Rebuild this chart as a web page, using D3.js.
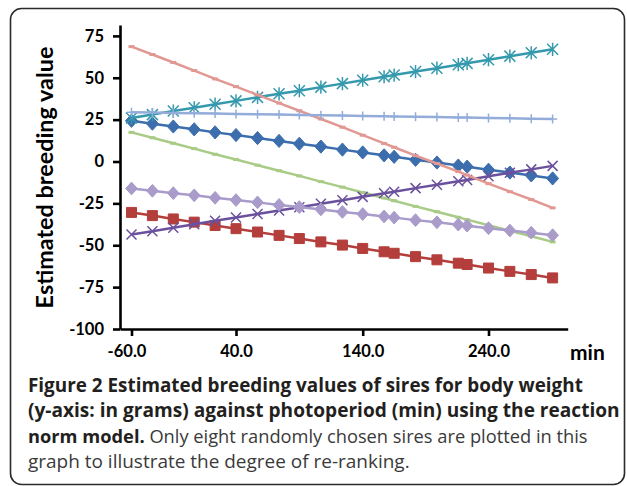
<!DOCTYPE html>
<html><head><meta charset="utf-8">
<script src="https://cdn.jsdelivr.net/npm/d3@7"></script>
<style>html,body{margin:0;padding:0;background:#fff;} svg{display:block;}</style>
</head><body>
<svg id="chart" width="627" height="486"></svg>
<script>
// ---- data ----
const photoperiod = [-60,-40,-20,0,20,40,57,74,90,107,124,140,157,165,182,199,216,223,240,257,274,291];
const sireDarkBlue = [24.3,22.6,20.9,19.2,17.4,15.8,14.0,12.3,10.6,8.9,7.1,5.4,3.7,2.8,1.0,-0.6,-2.4,-3.1,-4.9,-6.6,-8.3,-10.1];
const sireRed      = [-30.4,-32.3,-34.3,-36.2,-38.2,-40.1,-42.1,-44.1,-46.0,-48.0,-49.9,-51.9,-53.9,-54.8,-56.8,-58.7,-60.7,-61.5,-63.6,-65.6,-67.5,-69.5];
const sireGreen    = [17.4,14.2,10.9,7.7,4.3,1.2,-2.2,-5.5,-8.6,-12.0,-15.3,-18.5,-21.8,-23.4,-26.8,-30.0,-33.3,-34.7,-38.1,-41.4,-44.6,-48.0];
const sirePurple   = [-43.6,-41.6,-39.5,-37.5,-35.4,-33.4,-31.3,-29.2,-27.3,-25.2,-23.1,-21.1,-19.0,-18.0,-15.9,-13.9,-11.8,-11.0,-8.8,-6.7,-4.7,-2.6];
const sireTeal     = [26.0,28.0,30.1,32.1,34.2,36.2,38.3,40.4,42.3,44.4,46.5,48.5,50.6,51.6,53.7,55.7,57.8,58.6,60.8,62.9,64.9,67.0];
const sirePink     = [68.6,63.9,59.1,54.3,49.3,44.7,39.8,34.9,30.3,25.4,20.5,15.7,10.8,8.5,3.5,-1.2,-6.0,-8.1,-13.2,-18.0,-22.7,-27.7];
const sireLightBlue= [29.4,29.2,29.0,28.8,28.6,28.4,28.2,28.0,27.8,27.6,27.4,27.2,27.0,26.9,26.7,26.5,26.3,26.2,26.0,25.8,25.6,25.4];
const sireLavender = [-16.1,-17.5,-18.9,-20.2,-21.7,-23.0,-24.4,-25.9,-27.2,-28.6,-30.1,-31.4,-32.8,-33.5,-35.0,-36.3,-37.7,-38.3,-39.8,-41.2,-42.5,-44.0];

const xTickValues = [-60, 40, 140, 240];
const yTickValues = [75, 50, 25, 0, -25, -50, -75, -100];
const yAxisTitle = "Estimated breeding value";
const xAxisUnit = "min";
const captionLines = [
  [{t:"Figure 2 Estimated breeding values of sires for body weight", b:true}],
  [{t:"(y-axis: in grams) against photoperiod (min) using the reaction", b:true}],
  [{t:"norm model.", b:true}, {t:" Only eight randomly chosen sires are plotted in this", b:false}],
  [{t:"graph to illustrate the degree of re-ranking.", b:false}]
];

// ---- series styling ----
const series = [
  {values: sireDarkBlue,  color:"#3c6ead", marker:"diamond", ms:6},
  {values: sireRed,       color:"#b43e3b", marker:"square",  ms:5},
  {values: sireGreen,     color:"#a8cb86", marker:"dash",    ms:3},
  {values: sirePurple,    color:"#6b519d", marker:"x",       ms:5},
  {values: sireTeal,      color:"#3599ad", marker:"asterisk",ms:5.5},
  {values: sirePink,      color:"#e29892", marker:"dash",    ms:3},
  {values: sireLightBlue, color:"#93acd9", marker:"plus",    ms:4.5},
  {values: sireLavender,  color:"#a99bca", marker:"diamond", ms:5.8}
];

const svg = d3.select("#chart");
const FONT = "Lato, 'Open Sans', sans-serif";

// frame
svg.append("rect").attr("x",10.5).attr("y",8.5).attr("width",614).attr("height",476)
  .attr("rx",11).attr("fill","none").attr("stroke","#2a2a2a").attr("stroke-width",1.6);

// scales
const x = d3.scaleLinear()
  .domain([-71, -60, 40, 140, 240, 303])
  .range([120, 131.5, 236, 362.7, 488.5, 567.7]);
const y = d3.scaleLinear().domain([-100, 81.5]).range([329, 25]);

// axes
const yAxis = svg.append("g").attr("transform","translate(120,0)")
  .call(d3.axisLeft(y).tickValues(yTickValues).tickSize(7).tickSizeOuter(0).tickPadding(9)
    .tickFormat(d => String(d)));
const xAxis = svg.append("g").attr("transform","translate(0,329)")
  .call(d3.axisBottom(x).tickValues(xTickValues).tickSize(7).tickSizeOuter(0).tickPadding(9)
    .tickFormat(d => d.toFixed(1)));
[yAxis, xAxis].forEach(g => {
  g.select(".domain").attr("stroke","#000").attr("stroke-width",2.6);
  g.selectAll(".tick line").attr("stroke","#000").attr("stroke-width",2.6);
  g.selectAll(".tick text").attr("fill","#000").attr("font-family",FONT)
    .attr("font-weight",700).attr("font-size",16.5);
});
// the first x label sits slightly left of its tick in the reference
xAxis.selectAll(".tick text").filter(d => d < 0).attr("dx", -5);

// lines & markers
const line = d3.line().x((d,i) => x(photoperiod[i])).y(d => y(d));
function markerPath(type, s) {
  switch (type) {
    case "diamond": return `M0,${-s*1.1}L${s},0L0,${s*1.1}L${-s},0Z`;
    case "square": return `M${-s},${-s}H${s}V${s}H${-s}Z`;
    case "x": return `M${-s},${-s}L${s},${s}M${-s},${s}L${s},${-s}`;
    case "asterisk": return `M${-s},${-s}L${s},${s}M${-s},${s}L${s},${-s}M0,${-s*1.2}V${s*1.2}`;
    case "plus": return `M0,${-s}V${s}M${-s},0H${s}`;
    case "dash": return `M${-s},0H${s}`;
  }
}
series.forEach(s => {
  const g = svg.append("g");
  g.append("path").datum(s.values).attr("d", line).attr("fill","none")
    .attr("stroke", s.color).attr("stroke-width", 2.5).attr("stroke-linejoin","round");
  const filled = s.marker === "diamond" || s.marker === "square";
  g.selectAll("path.m").data(s.values).join("path").attr("class","m")
    .attr("transform", (d,i) => `translate(${x(photoperiod[i])},${y(d)})`)
    .attr("d", markerPath(s.marker, s.ms))
    .attr("fill", filled ? s.color : "none")
    .attr("stroke", s.color)
    .attr("stroke-width", filled ? 1 : (s.marker === "dash" ? 3 : 1.5));
});

// fit helper
function fit(sel, target) {
  const w = sel.node().getComputedTextLength();
  const fs = parseFloat(sel.attr("font-size"));
  sel.attr("font-size", fs * target / w);
}

// y axis title
const yt = svg.append("text").attr("transform","translate(53,177.5) rotate(-90)")
  .attr("text-anchor","middle").attr("font-family",FONT).attr("font-weight",700)
  .attr("font-size",20).attr("fill","#000").text(yAxisTitle);
fit(yt, 262);

// x unit
svg.append("text").attr("x",570).attr("y",360).attr("font-family",FONT)
  .attr("font-weight",700).attr("font-size",21).attr("fill","#000").text(xAxisUnit);

// caption
const capTargets = [555, 592, 560, 382];
const capBase = [392, 417, 443, 468];
captionLines.forEach((parts, i) => {
  const t = svg.append("text").attr("x",28).attr("y",capBase[i])
    .attr("font-family","'Open Sans', sans-serif").attr("font-size",18);
  parts.forEach(p => t.append("tspan").text(p.t)
    .attr("font-weight", p.b ? 700 : 400).attr("fill", p.b ? "#231f20" : "#3a3a3a"));
  fit(t, capTargets[i]);
});
</script>
</body></html>
